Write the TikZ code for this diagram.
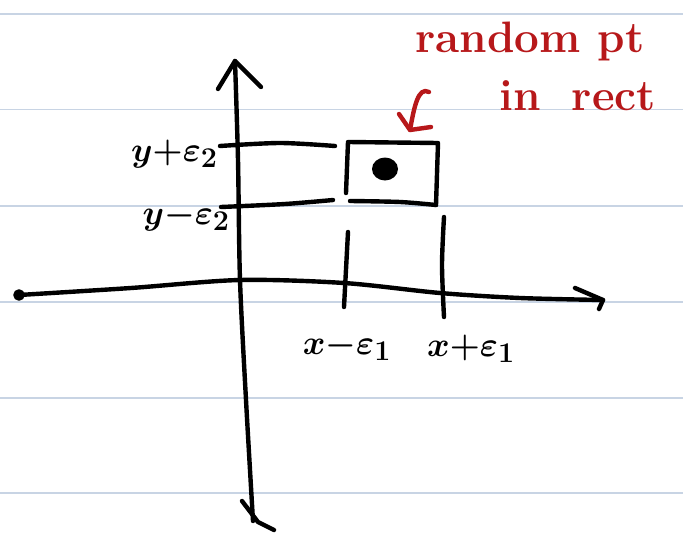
\documentclass[tikz,border=0pt]{standalone}
\usetikzlibrary{calc,shapes.geometric}
\definecolor{penred}{RGB}{183,24,26}
\definecolor{rulecol}{RGB}{200,212,228}
\begin{document}
\begin{tikzpicture}[x=1pt,y=-1pt, line cap=round, line join=round,
  ink/.style={line width=4.4pt, black},
  rule/.style={line width=1.6pt, color=rulecol},
  redink/.style={line width=4.4pt, color=penred},
  lbl/.style={font=\Huge\boldmath, inner sep=0pt, scale=1.38},
  note/.style={font=\fontsize{44}{48}\selectfont\bfseries, text=penred, inner sep=0pt}]
\fill[white] (0,0) rectangle (683,535);
\useasboundingbox (0,0) rectangle (683,535);
\foreach \yy in {14,109.5,206,302,398,493} \draw[rule] (0,\yy) -- (683,\yy);

% axes
\coordinate (ytop) at (235,61);
\coordinate (ybot) at (253,521);
\coordinate (orig) at (240,280);
\coordinate (xleft) at (19,295);
\coordinate (xright) at (603,300);
\draw[ink] plot[smooth] coordinates {(ybot) (246,400) (orig) (238,160) (ytop)};
\draw[ink] ($(ytop)+(-17,28)$) -- (ytop) -- ($(ytop)+(26,26)$);
\draw[ink] (242,501) -- (258,522) -- (274,530);
\draw[ink] plot[smooth] coordinates {(xleft) (131,288) (orig) (344,283) (440,293) (520,298) (xright)};
\draw[ink] ($(xright)+(-28,-12)$) -- (xright) -- ($(xright)+(-4,9)$);
\draw[ink] (xleft) circle (3.5);

% rectangle and point
\coordinate (rtl) at (348,142);
\coordinate (rtr) at (438,143);
\coordinate (rbr) at (436,205);
\coordinate (rbl) at (350,201);
\draw[ink] (346,193) -- (rtl) -- (rtr) -- (rbr);
\draw[ink] plot[smooth] coordinates {(rbr) (400,202) (rbl)};
\node[fill=black, ellipse, minimum width=26pt, minimum height=23pt, inner sep=0pt] (pt) at (385,169) {};

% guide lines
\coordinate (gt0) at (220,146);
\coordinate (gt1) at (335,146);
\coordinate (gb0) at (221,207);
\coordinate (gb1) at (333,200);
\draw[ink] plot[smooth] coordinates {(gt0) (280,143) (gt1)};
\draw[ink] plot[smooth] coordinates {(gb0) (285,204) (gb1)};

% vertical ticks
\coordinate (vl0) at (348,232);
\coordinate (vl1) at (344,307);
\coordinate (vr0) at (444,217);
\coordinate (vr1) at (444,317);
\draw[ink] (vl0) -- (vl1);
\draw[ink] plot[smooth] coordinates {(vr0) (442,265) (vr1)};

% labels
\node[lbl, anchor=east] (ly1) at (218,154) {$y{+}\varepsilon_2$};
\node[lbl, anchor=east] (ly2) at (230,217) {$y{-}\varepsilon_2$};
\node[lbl] (lx1) at (347,347) {$x{-}\varepsilon_1$};
\node[lbl] (lx2) at (471,349) {$x{+}\varepsilon_1$};

% red note
\node[note] (n1) at (530,42) {random pt};
\node[note] (n2) at (578,96) {in\hspace{0.7em}rect};
\coordinate (a0) at (429,92);
\coordinate (a1) at (410,130);
\draw[redink] (a0) .. controls (418,86) and (414,108) .. (a1);
\draw[redink] (399,114) -- (a1) -- (431,127);
\end{tikzpicture}
\end{document}
